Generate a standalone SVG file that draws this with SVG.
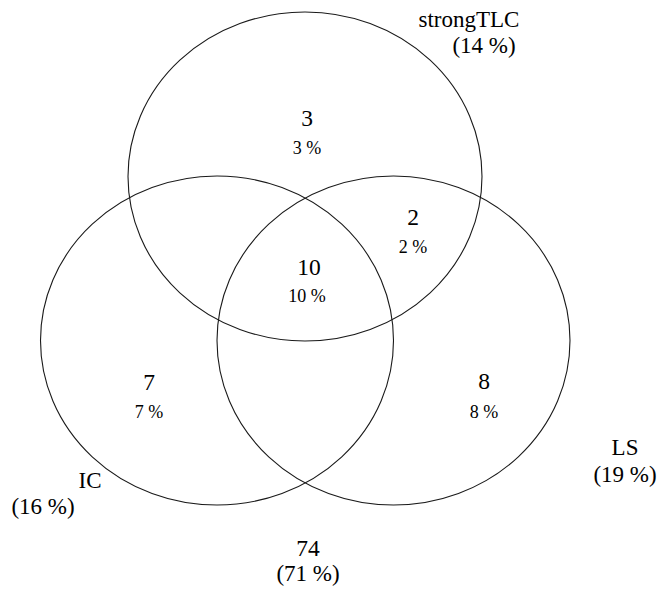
<svg xmlns="http://www.w3.org/2000/svg" width="659" height="591" viewBox="0 0 659 591">
<style>
.set{fill:none;stroke:#1a1a1a;stroke-width:1.1}
text{font-family:"Liberation Serif","Times New Roman",serif;fill:#000;text-anchor:middle}
.num{font-size:23.5px}
.pct{font-size:18px}
.lbl{font-size:23px}
</style>
<rect width="659" height="591" fill="#fff"/>
<g id="set-strongTLC">
<ellipse class="set" cx="305" cy="176.5" rx="177" ry="164.5"/>
<text class="lbl" x="469" y="27">strongTLC</text>
<text class="lbl" x="484" y="53">(14 %)</text>
</g>
<g id="set-IC">
<ellipse class="set" cx="217" cy="340.5" rx="176.5" ry="164.5"/>
<text class="lbl" x="90" y="488">IC</text>
<text class="lbl" x="43" y="514">(16 %)</text>
</g>
<g id="set-LS">
<ellipse class="set" cx="393.5" cy="340.5" rx="176.5" ry="164.5"/>
<text class="lbl" x="625" y="455">LS</text>
<text class="lbl" x="625" y="482">(19 %)</text>
</g>
<g id="region-strongTLC-only">
<text class="num" x="307" y="126">3</text>
<text class="pct" x="307" y="154">3 %</text>
</g>
<g id="region-strongTLC-LS">
<text class="num" x="413" y="225">2</text>
<text class="pct" x="413" y="253">2 %</text>
</g>
<g id="region-all">
<text class="num" x="309" y="275">10</text>
<text class="pct" x="307" y="302">10 %</text>
</g>
<g id="region-IC-only">
<text class="num" x="149" y="390">7</text>
<text class="pct" x="149" y="418">7 %</text>
</g>
<g id="region-LS-only">
<text class="num" x="484" y="389">8</text>
<text class="pct" x="484" y="418">8 %</text>
</g>
<g id="region-none">
<text class="num" x="308" y="556">74</text>
<text class="lbl" x="308" y="581">(71 %)</text>
</g>
</svg>
